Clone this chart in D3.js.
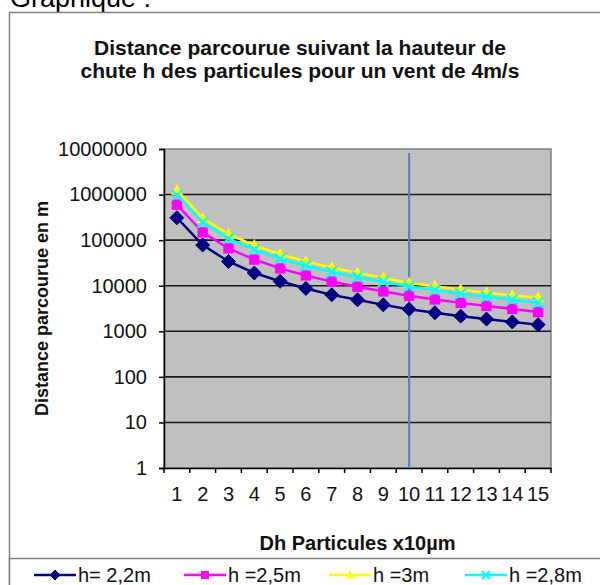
<!DOCTYPE html>
<html><head><meta charset="utf-8">
<script src="https://cdn.jsdelivr.net/npm/d3@7"></script>
<style>body{margin:0;background:#fff}svg{display:block;font-family:Arial,"Liberation Sans",sans-serif}</style>
</head><body><svg id="c" width="600" height="585"></svg>
<script>
const categories = ["1","2","3","4","5","6","7","8","9","10","11","12","13","14","15"];
const h22 = [310000, 78000, 34000, 19000, 12500, 8700, 6300, 4900, 3800, 3050, 2550, 2150, 1850, 1600, 1400];
const h25 = [600000, 148000, 66000, 37500, 24000, 16800, 12300, 9500, 7500, 6000, 5000, 4200, 3600, 3100, 2650];
const h30 = [1250000, 300000, 135000, 77000, 49000, 34000, 25000, 19000, 15000, 11500, 9700, 8200, 7000, 6100, 5500];
const h28 = [980000, 245000, 108000, 62000, 39000, 27500, 20000, 15500, 12200, 9600, 8000, 6700, 5700, 4900, 4250];
const seriesNames = ["h= 2,2m", "h =2,5m", "h =3m", "h =2,8m"];
const seriesColors = ["#000080", "#ff00ff", "#ffff00", "#00ffff"];
const markerTypes = ["diamond", "square", "triangle", "cross"];
const yTicks = [1, 10, 100, 1000, 10000, 100000, 1000000, 10000000];
const refCategory = "10";
const titleLines = ["Distance parcourue suivant la hauteur de", "chute h des particules pour un vent de 4m/s"];
const yTitle = "Distance parcourue en m";
const xTitle = "Dh Particules x10µm";
const pageLabel = "Graphique :";

const allSeries = [h22, h25, h30, h28];
const svg = d3.select("#c");
const L = 164, R = 551, T = 149, B = 468;

// page label (cut at top, as in the reference)
svg.append("text").attr("x", 10).attr("y", 7).attr("font-size", 27).attr("fill", "#000").text(pageLabel);

// chart border
svg.append("rect").attr("x", 9.5).attr("y", 12.5).attr("width", 600).attr("height", 600)
  .attr("fill", "#fff").attr("stroke", "#808080").attr("stroke-width", 1.5);

// title
svg.append("g").selectAll("text").data(titleLines).join("text")
  .attr("x", 300).attr("y", (d, i) => 55 + i * 23).attr("text-anchor", "middle")
  .attr("font-size", 21).attr("font-weight", "bold").attr("fill", "#111").text(d => d);

const x = d3.scaleBand().domain(categories).range([L, R]);
const y = d3.scaleLog().domain([1, 1e7]).range([B, T]);

// plot area
svg.append("rect").attr("x", L).attr("y", T).attr("width", R - L).attr("height", B - T)
  .attr("fill", "#c0c0c0").attr("stroke", "#808080").attr("stroke-width", 1.5);

// gridlines
svg.append("g").selectAll("line").data(yTicks.filter(v => v > 1 && v < 1e7)).join("line")
  .attr("x1", L).attr("x2", R).attr("y1", d => y(d)).attr("y2", d => y(d))
  .attr("stroke", "#1a1a1a").attr("stroke-width", 1.6);

// y axis
const yAxis = svg.append("g").attr("transform", `translate(${L},0)`)
  .call(d3.axisLeft(y).tickValues(yTicks).tickFormat(d3.format("d")).tickSize(5).tickPadding(12));
yAxis.select(".domain").attr("stroke", "#000").attr("stroke-width", 1.5);
yAxis.selectAll(".tick line").attr("stroke", "#000").attr("stroke-width", 1.5);
yAxis.selectAll("text").attr("font-size", 20).attr("fill", "#111").attr("font-family", "Arial, 'Liberation Sans', sans-serif");

// x axis
const xAxis = svg.append("g").attr("transform", `translate(0,${B})`)
  .call(d3.axisBottom(x).tickSize(0).tickPadding(19));
xAxis.select(".domain").attr("stroke", "#000").attr("stroke-width", 1.5);
xAxis.selectAll("text").attr("font-size", 20).attr("fill", "#111").attr("font-family", "Arial, 'Liberation Sans', sans-serif");
const bounds = categories.map(c => x(c)).concat([x(categories[categories.length - 1]) + x.bandwidth()]);
xAxis.append("g").selectAll("line").data(bounds).join("line")
  .attr("x1", d => d).attr("x2", d => d).attr("y1", 0).attr("y2", 5)
  .attr("stroke", "#000").attr("stroke-width", 1.5);

// reference vertical line
svg.append("line").attr("x1", x(refCategory) + x.bandwidth() / 2).attr("x2", x(refCategory) + x.bandwidth() / 2)
  .attr("y1", T + 4).attr("y2", B).attr("stroke", "#5b82c2").attr("stroke-width", 2.2);

// axis titles
svg.append("text").attr("transform", `translate(48,${(T + B) / 2}) rotate(-90)`)
  .attr("text-anchor", "middle").attr("font-size", 18).attr("font-weight", "bold").attr("fill", "#111").text(yTitle);
svg.append("text").attr("x", (L + R) / 2).attr("y", 550).attr("text-anchor", "middle")
  .attr("font-size", 20).attr("font-weight", "bold").attr("fill", "#111").text(xTitle);

function marker(g, type, color, s) {
  if (type === "diamond") {
    g.append("path").attr("d", `M0,${-s}L${s},0L0,${s}L${-s},0Z`).attr("fill", color).attr("stroke", color);
  } else if (type === "square") {
    g.append("rect").attr("x", -s * 0.8).attr("y", -s * 0.8).attr("width", s * 1.6).attr("height", s * 1.6).attr("fill", color);
  } else if (type === "triangle") {
    g.append("path").attr("d", `M0,${-s}L${s * 0.9},${s * 0.7}L${-s * 0.9},${s * 0.7}Z`).attr("fill", color);
  } else {
    g.append("path").attr("d", `M${-s * 0.8},${-s * 0.8}L${s * 0.8},${s * 0.8}M${-s * 0.8},${s * 0.8}L${s * 0.8},${-s * 0.8}`)
      .attr("stroke", color).attr("stroke-width", 2.2).attr("fill", "none");
  }
}

const line = d3.line().x((d, i) => x(categories[i]) + x.bandwidth() / 2).y(d => y(d));
allSeries.forEach((vals, si) => {
  const g = svg.append("g");
  g.append("path").attr("d", line(vals)).attr("fill", "none").attr("stroke", seriesColors[si]).attr("stroke-width", 2.5);
  vals.forEach((v, i) => {
    const mg = g.append("g").attr("transform", `translate(${x(categories[i]) + x.bandwidth() / 2},${y(v)})`);
    marker(mg, markerTypes[si], seriesColors[si], si === 0 ? 7 : 6.5);
  });
});

// legend
svg.append("rect").attr("x", 9.5).attr("y", 558.5).attr("width", 600).attr("height", 40)
  .attr("fill", "#fff").attr("stroke", "#808080").attr("stroke-width", 1.5);
const legendX = [34, 184, 329, 465];
seriesNames.forEach((n, i) => {
  const g = svg.append("g").attr("transform", `translate(${legendX[i]},575)`);
  g.append("line").attr("x1", 0).attr("x2", 42).attr("stroke", seriesColors[i]).attr("stroke-width", 2.5);
  marker(g.append("g").attr("transform", "translate(21,0)"), markerTypes[i], seriesColors[i], 5);
  g.append("text").attr("x", 44).attr("y", 7).attr("font-size", 20).attr("fill", "#111").text(n);
});
</script></body></html>
